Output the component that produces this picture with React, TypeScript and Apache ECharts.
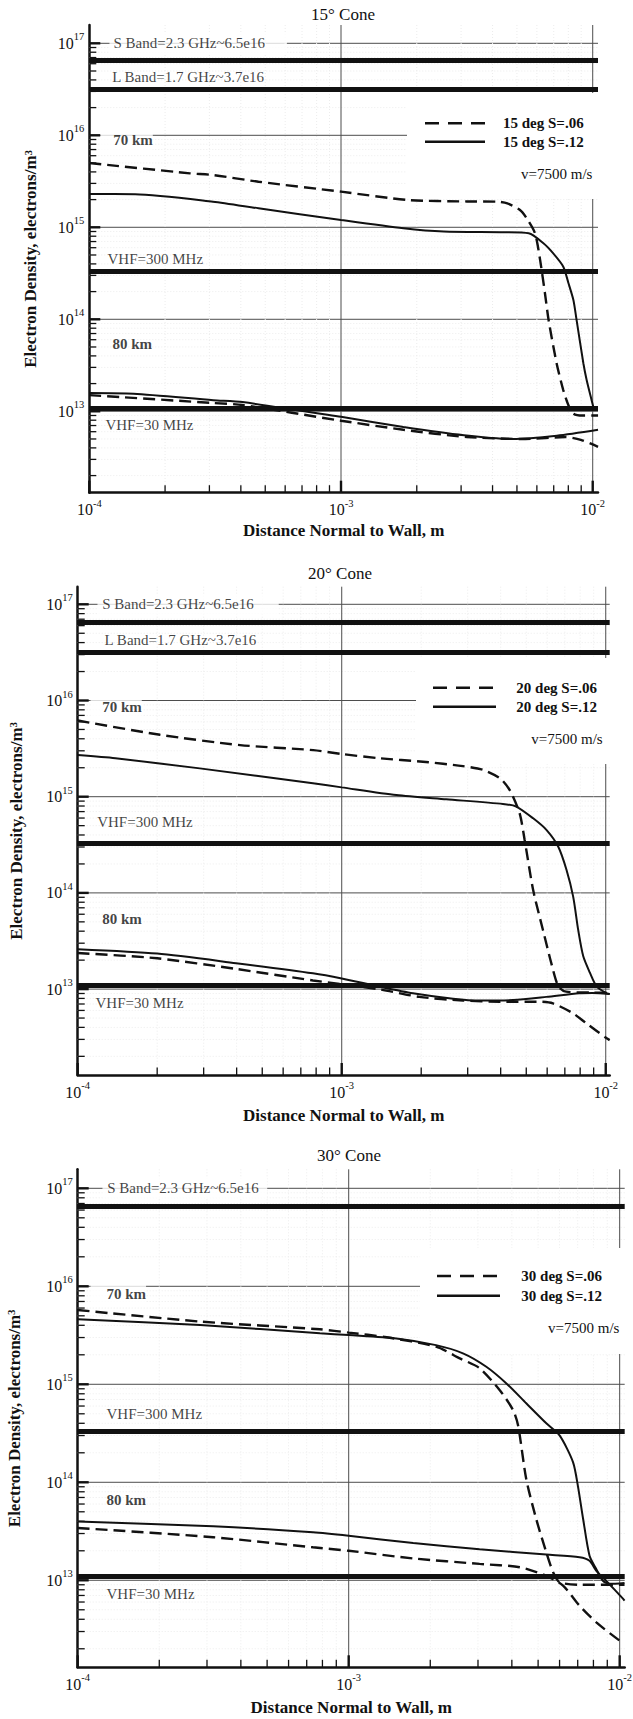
import React, { useEffect, useRef } from "react";
import * as echarts from "echarts";

const FONT = '"Liberation Serif", "Times New Roman", Times, serif';
const INK = "#111111";

// ---------------- DATA ----------------
const xAxisTitle = "Distance Normal to Wall, m";
const yAxisTitle = "Electron Density, electrons/m{sup|3}";
const panelTitles = ["15° Cone", "20° Cone", "30° Cone"];
const distanceMajorExp = [-4, -3, -2];
const densityMajorExp = [13, 14, 15, 16, 17];
const minorMultipliers = [2, 3, 4, 5, 6, 7, 8, 9];

const bandLabels = ["S Band=2.3 GHz~6.5e16", "L Band=1.7 GHz~3.7e16", "VHF=300 MHz", "VHF=30 MHz"];
const altitudeLabels = ["70 km", "80 km"];
const velocityNote = "v=7500 m/s";

const legend15 = ["15 deg S=.06", "15 deg S=.12"];
const legend20 = ["20 deg S=.06", "20 deg S=.12"];
const legend30 = ["30 deg S=.06", "30 deg S=.12"];

// plasma cut-off densities drawn as heavy lines
const bands15 = [6.5e16, 3.2e16, 3.35e14, 1.08e13];
const bands20 = [6.5e16, 3.2e16, 3.3e14, 1.1e13];
const bands30 = [6.6e16, 3.3e14, 1.11e13];

// [distance m, electron density m^-3]
const cone15_S06_70km = [
  [1.0e-4, 5.0e15], [2.51e-4, 3.86e15], [3.1e-4, 3.7e15], [4.7e-4, 3.13e15], [1.0e-3, 2.44e15],
  [1.84e-3, 1.98e15], [3.16e-3, 1.91e15], [4.16e-3, 1.9e15], [4.58e-3, 1.82e15], [5.14e-3, 1.54e15],
  [5.47e-3, 1.25e15], [5.9e-3, 8.6e14], [6.18e-3, 4.42e14], [6.46e-3, 1.92e14], [6.68e-3, 9.8e13],
  [7.19e-3, 3.31e13], [7.64e-3, 1.7e13], [8.0e-3, 1.17e13], [8.38e-3, 9.44e12], [9.12e-3, 9.0e12], [1.05e-2, 9.0e12],
];
const cone15_S12_70km = [
  [1.0e-4, 2.3e15], [1.52e-4, 2.29e15], [3.1e-4, 1.9e15], [4.7e-4, 1.61e15], [1.0e-3, 1.2e15],
  [1.77e-3, 9.75e14], [2.56e-3, 8.98e14], [4.46e-3, 8.83e14], [5.57e-3, 8.6e14], [6.37e-3, 6.7e14],
  [6.97e-3, 5.2e14], [7.64e-3, 3.73e14], [8.0e-3, 2.5e14], [8.38e-3, 1.62e14],
  [8.63e-3, 9.8e13], [9.18e-3, 3.33e13], [9.46e-3, 2.19e13], [9.9e-3, 1.32e13], [1.005e-2, 1.12e13],
];
const cone15_S06_80km = [
  [1.0e-4, 1.5e13], [3.11e-4, 1.23e13], [4.06e-4, 1.17e13], [1.0e-3, 7.9e12], [1.77e-3, 6.3e12],
  [3.16e-3, 5.25e12], [5.4e-3, 5.0e12], [7.8e-3, 5.25e12], [8.97e-3, 4.9e12], [1.05e-2, 4.1e12],
];
const cone15_S12_80km = [
  [1.0e-4, 1.58e13], [1.5e-4, 1.55e13], [3.11e-4, 1.32e13], [4.06e-4, 1.26e13], [1.0e-3, 8.7e12],
  [1.77e-3, 6.76e12], [3.08e-3, 5.5e12], [4.8e-3, 5.0e12], [7.2e-3, 5.43e12], [1.05e-2, 6.3e12],
];

const cone20_S06_70km = [
  [1.0e-4, 6.2e15], [2.05e-4, 4.4e15], [4.12e-4, 3.44e15], [7.8e-4, 3.05e15], [1.0e-3, 2.78e15],
  [1.39e-3, 2.51e15], [2.03e-3, 2.31e15], [2.88e-3, 2.08e15], [3.43e-3, 1.9e15], [3.98e-3, 1.55e15],
  [4.33e-3, 1.17e15], [4.72e-3, 6.7e14], [4.93e-3, 3.55e14], [5.31e-3, 1.07e14], [5.79e-3, 4.07e13],
  [6.22e-3, 1.86e13], [6.61e-3, 1.07e13], [7.08e-3, 9.4e12], [8.9e-3, 9.2e12], [1.035e-2, 9.1e12],
];
const cone20_S12_70km = [
  [1.0e-4, 2.71e15], [1.39e-4, 2.51e15], [2.9e-4, 1.97e15], [7.78e-4, 1.38e15], [1.0e-3, 1.25e15],
  [1.61e-3, 1.04e15], [2.49e-3, 9.4e14], [4.08e-3, 8.4e14], [4.58e-3, 7.9e14], [5.31e-3, 5.96e14],
  [5.96e-3, 4.52e14], [6.61e-3, 3.02e14], [7.1e-3, 1.74e14], [7.53e-3, 9.1e13], [7.87e-3, 4.07e13],
  [8.22e-3, 2.19e13], [8.71e-3, 1.48e13], [9.23e-3, 1.07e13], [1.005e-2, 9.1e12], [1.035e-2, 8.9e12],
];
const cone20_S06_80km = [
  [1.0e-4, 2.37e13], [2.0e-4, 2.09e13], [3.98e-4, 1.62e13], [7.78e-4, 1.23e13], [1.39e-3, 9.95e12],
  [1.97e-3, 8.3e12], [2.88e-3, 7.6e12], [3.98e-3, 7.4e12], [5.62e-3, 7.4e12], [6.31e-3, 7.1e12],
  [7.52e-3, 5.6e12], [8.45e-3, 4.4e12], [1.005e-2, 3.1e12], [1.035e-2, 2.95e12],
];
const cone20_S12_80km = [
  [1.0e-4, 2.6e13], [2.0e-4, 2.34e13], [3.98e-4, 1.86e13], [7.78e-4, 1.46e13], [1.0e-3, 1.29e13],
  [1.39e-3, 1.06e13], [1.86e-3, 9.04e12], [2.64e-3, 7.94e12], [3.33e-3, 7.59e12], [4.46e-3, 7.7e12],
  [5.96e-3, 8.3e12], [7.94e-3, 9.04e12], [8.91e-3, 9.1e12], [1.035e-2, 8.9e12],
];

const cone30_S06_70km = [
  [1.0e-4, 5.73e15], [2.82e-4, 4.37e15], [7.83e-4, 3.64e15], [1.0e-3, 3.37e15], [1.38e-3, 3.02e15],
  [2.1e-3, 2.42e15], [2.57e-3, 1.84e15], [3.04e-3, 1.46e15], [3.61e-3, 8.7e14], [4.04e-3, 5.47e14],
  [4.22e-3, 3.78e14], [4.52e-3, 1.08e14], [4.92e-3, 4.22e13], [5.36e-3, 1.93e13], [5.68e-3, 1.21e13],
  [6.01e-3, 9.55e12], [7.08e-3, 9.0e12], [1.042e-2, 9.0e12],
];
const cone30_S12_70km = [
  [1.0e-4, 4.6e15], [2.83e-4, 4.03e15], [7.83e-4, 3.31e15], [1.0e-3, 3.18e15], [1.5e-3, 2.94e15],
  [2.1e-3, 2.51e15], [2.64e-3, 2.07e15], [3.22e-3, 1.51e15], [3.82e-3, 1.02e15], [4.52e-3, 6.4e14],
  [5.36e-3, 4.0e14], [6.01e-3, 2.99e14], [6.73e-3, 1.6e14], [7.01e-3, 9.2e13], [7.33e-3, 4.22e13],
  [7.74e-3, 1.78e13], [8.2e-3, 1.3e13], [8.67e-3, 9.9e12], [9.18e-3, 9.2e12], [1.042e-2, 9.4e12],
];
const cone30_S06_80km = [
  [1.0e-4, 3.42e13], [3.16e-4, 2.75e13], [7.38e-4, 2.17e13], [1.0e-3, 2.0e13], [1.73e-3, 1.67e13],
  [3.04e-3, 1.47e13], [4.28e-3, 1.36e13], [5.36e-3, 1.11e13], [6.18e-3, 8.8e12], [7.11e-3, 5.5e12],
  [8.2e-3, 3.72e12], [1.0e-2, 2.42e12], [1.042e-2, 2.29e12],
];
const cone30_S12_80km = [
  [1.0e-4, 3.98e13], [3.16e-4, 3.55e13], [7.38e-4, 3.09e13], [1.0e-3, 2.85e13], [1.73e-3, 2.4e13],
  [3.04e-3, 2.07e13], [5.36e-3, 1.83e13], [7.11e-3, 1.72e13], [7.74e-3, 1.58e13], [8.2e-3, 1.25e13],
  [8.91e-3, 9.9e12], [1.028e-2, 6.5e12], [1.042e-2, 6.2e12],
];

const PANELS = [
  { dashed: [cone15_S06_70km, cone15_S06_80km], solid: [cone15_S12_70km, cone15_S12_80km], bands: bands15, legend: legend15 },
  { dashed: [cone20_S06_70km, cone20_S06_80km], solid: [cone20_S12_70km, cone20_S12_80km], bands: bands20, legend: legend20 },
  { dashed: [cone30_S06_70km, cone30_S06_80km], solid: [cone30_S12_70km, cone30_S12_80km], bands: bands30, legend: legend30 },
];

// ---------------- LAYOUT (pixels / anchors) ----------------
type Note = { text: string; x: number; y: number; bold?: boolean; bg?: boolean; pad: number[] };
const LAYOUT = [
  {
    grid: { left: 89.3, top: 25, width: 508.7, height: 467.7 },
    xMaxExp: -1.979, yExp: [12.115, 17.199], title: [343, 14], yNameGap: 50, xNameGap: 29,
    legend: { box: [407, 93, 193, 106], rows: [123.3, 141.7], line: [425, 485], textX: 503, vX: 521, vY: 174 },
    notes: [
      { text: bandLabels[0], x: 1.197e-4, y: 1.0e17, bg: true, pad: [3, 22, 3, 4] },
      { text: bandLabels[1], x: 1.228e-4, y: 4.34e16, pad: [0, 0, 0, 0] },
      { text: altitudeLabels[0], x: 1.103e-4, y: 8.9e15, bold: true, bg: true, pad: [3, 0, 3, 12.7] },
      { text: bandLabels[2], x: 1.176e-4, y: 4.52e14, pad: [0, 0, 0, 0] },
      { text: altitudeLabels[1], x: 1.231e-4, y: 5.35e13, bold: true, pad: [0, 0, 0, 0] },
      { text: bandLabels[3], x: 1.154e-4, y: 7.03e12, pad: [0, 0, 0, 0] },
    ] as Note[],
  },
  {
    grid: { left: 77.7, top: 586.7, width: 532, height: 488.3 },
    xMaxExp: -1.985, yExp: [12.107, 17.183], title: [340, 573], yNameGap: 53, xNameGap: 31.5,
    legend: { box: [416, 658, 196, 106], rows: [687.7, 706.7], line: [433, 496], textX: 516.3, vX: 531.3, vY: 739 },
    notes: [
      { text: bandLabels[0], x: 1.183e-4, y: 1.0e17, bg: true, pad: [3, 25, 3, 4.7] },
      { text: bandLabels[1], x: 1.258e-4, y: 4.26e16, pad: [0, 0, 0, 0] },
      { text: altitudeLabels[0], x: 1.113e-4, y: 8.6e15, bold: true, bg: true, pad: [3, 0, 3, 11.7] },
      { text: bandLabels[2], x: 1.18e-4, y: 5.5e14, pad: [0, 0, 0, 0] },
      { text: altitudeLabels[1], x: 1.233e-4, y: 5.3e13, bold: true, pad: [0, 0, 0, 0] },
      { text: bandLabels[3], x: 1.163e-4, y: 7.15e12, pad: [0, 0, 0, 0] },
    ] as Note[],
  },
  {
    grid: { left: 77.7, top: 1169.3, width: 547, height: 498 },
    xMaxExp: -1.9815, yExp: [12.112, 17.194], title: [349, 1155], yNameGap: 55, xNameGap: 31.5,
    legend: { box: [420, 1248, 213, 106], rows: [1276, 1295.7], line: [437, 500], textX: 521.3, vX: 548, vY: 1328.3 },
    notes: [
      { text: bandLabels[0], x: 1.229e-4, y: 1.0e17, bg: true, pad: [3, 8.3, 3, 4.7] },
      { text: altitudeLabels[0], x: 1.11e-4, y: 8.34e15, bold: true, bg: true, pad: [4, 0, 3, 16] },
      { text: bandLabels[2], x: 1.272e-4, y: 4.94e14, pad: [0, 0, 0, 0] },
      { text: altitudeLabels[1], x: 1.272e-4, y: 6.6e13, bold: true, pad: [0, 0, 0, 0] },
      { text: bandLabels[3], x: 1.272e-4, y: 7.2e12, pad: [0, 0, 0, 0] },
    ] as Note[],
  },
];

const expLabel = (v: number) => {
  const e = Math.log10(v);
  const r = Math.round(e);
  if (Math.abs(e - r) > 1e-6) return "";
  return `{b|10}{s|${r}}`;
};
const labelRich = {
  b: { fontFamily: FONT, fontSize: 16, color: INK, lineHeight: 24 },
  s: { fontFamily: FONT, fontSize: 10.5, color: INK, verticalAlign: "top", lineHeight: 10 },
};

// kinds: 0 y-grid, 1 y-minor grid, 2 x-grid, 3 x-minor grid, 4 y major tick, 5 y minor tick, 6 x major tick, 7 x minor tick
const renderGuides = (params: any, api: any) => {
  const cs = params.coordSys;
  const kind = api.value(2);
  const pt = api.coord([api.value(0), api.value(1)]);
  const left = cs.x, right = cs.x + cs.width, top = cs.y, bottom = cs.y + cs.height;
  let shape: any; let style: any;
  switch (kind) {
    case 0: shape = { x1: left, y1: pt[1], x2: right, y2: pt[1] }; style = { stroke: "#4d4d4d", lineWidth: 1 }; break;
    case 1: shape = { x1: left, y1: pt[1], x2: right, y2: pt[1] }; style = { stroke: "#ececec", lineWidth: 1, lineDash: [1, 2] }; break;
    case 2: shape = { x1: pt[0], y1: top, x2: pt[0], y2: bottom }; style = { stroke: "#4d4d4d", lineWidth: 1 }; break;
    case 3: shape = { x1: pt[0], y1: top, x2: pt[0], y2: bottom }; style = { stroke: "#ececec", lineWidth: 1, lineDash: [1, 2] }; break;
    case 4: shape = { x1: left, y1: pt[1], x2: left + 11, y2: pt[1] }; style = { stroke: INK, lineWidth: 2.4 }; break;
    case 5: shape = { x1: left, y1: pt[1], x2: left + 7, y2: pt[1] }; style = { stroke: INK, lineWidth: 1.3 }; break;
    case 6: shape = { x1: pt[0], y1: bottom, x2: pt[0], y2: bottom - 12 }; style = { stroke: INK, lineWidth: 2.4 }; break;
    default: shape = { x1: pt[0], y1: bottom, x2: pt[0], y2: bottom - 7.5 }; style = { stroke: INK, lineWidth: 1.3 }; break;
  }
  return { type: "line", shape, style, silent: true };
};

function buildOption() {
  const grid: any[] = [];
  const xAxis: any[] = [];
  const yAxis: any[] = [];
  const series: any[] = [];
  const graphic: any[] = [];

  PANELS.forEach((P, i) => {
    const L = LAYOUT[i];
    const xMin = 1e-4;
    const xMax = Math.pow(10, L.xMaxExp);
    const yMin = Math.pow(10, L.yExp[0]);
    const yMax = Math.pow(10, L.yExp[1]);

    grid.push({ ...L.grid, containLabel: false, outerBoundsMode: "none", show: false });

    xAxis.push({
      type: "log", logBase: 10, gridIndex: i, min: xMin, max: xMax,
      name: xAxisTitle, nameLocation: "middle", nameGap: L.xNameGap,
      nameTextStyle: { fontFamily: FONT, fontSize: 17, fontWeight: "bold", color: INK },
      axisLine: { show: true, onZero: false, lineStyle: { color: INK, width: 2.5 } },
      axisTick: { show: false }, minorTick: { show: false }, splitLine: { show: false }, minorSplitLine: { show: false },
      axisLabel: { show: true, formatter: expLabel, margin: 5, rich: labelRich, hideOverlap: false },
    });
    yAxis.push({
      type: "log", logBase: 10, gridIndex: i, min: yMin, max: yMax,
      name: yAxisTitle, nameLocation: "middle", nameGap: L.yNameGap, nameRotate: 90,
      nameTextStyle: {
        fontFamily: FONT, fontSize: 17, fontWeight: "bold", color: INK,
        rich: { sup: { fontFamily: FONT, fontSize: 11, fontWeight: "bold", color: INK, verticalAlign: "top", lineHeight: 10 } },
      },
      axisLine: { show: true, onZero: false, lineStyle: { color: INK, width: 2.5 } },
      axisTick: { show: false }, minorTick: { show: false }, splitLine: { show: false }, minorSplitLine: { show: false },
      axisLabel: { show: true, formatter: expLabel, margin: 5, rich: labelRich, hideOverlap: false },
    });

    // guides: grid lines and ticks
    const guides: number[][] = [];
    densityMajorExp.forEach((e) => {
      guides.push([xMin, Math.pow(10, e), 0]);
      guides.push([xMin, Math.pow(10, e), 4]);
    });
    for (let e = Math.floor(L.yExp[0]); e < Math.ceil(L.yExp[1]); e++) {
      minorMultipliers.forEach((m) => {
        const v = m * Math.pow(10, e);
        if (v > yMin && v < yMax) {
          guides.push([xMin, v, 1]);
          guides.push([xMin, v, 5]);
        }
      });
    }
    distanceMajorExp.forEach((e) => {
      const v = Math.pow(10, e);
      if (e > distanceMajorExp[0]) guides.push([v, yMin, 2]);
      guides.push([v, yMin, 6]);
    });
    distanceMajorExp.slice(0, -1).forEach((e) => {
      minorMultipliers.forEach((m) => {
        const v = m * Math.pow(10, e);
        guides.push([v, yMin, 3]);
        guides.push([v, yMin, 7]);
      });
    });
    series.push({
      type: "custom", xAxisIndex: i, yAxisIndex: i, renderItem: renderGuides, data: guides,
      z: 1, silent: true, clip: false,
    });

    const dashedStyle = { color: INK, width: 2.4, type: [12, 6] };
    const solidStyle = { color: INK, width: 2, type: "solid" };
    const lineBase = {
      type: "line", xAxisIndex: i, yAxisIndex: i, showSymbol: false, symbol: "none",
      smooth: 0.25, z: 3, silent: true, clip: true,
    };
    series.push({
      ...lineBase, name: P.legend[0], data: P.dashed[0], lineStyle: dashedStyle,
      markLine: {
        silent: true, symbol: ["none", "none"], label: { show: false },
        lineStyle: { color: INK, width: 5, type: "solid" },
        data: P.bands.map((v) => ({ yAxis: v })),
      },
    });
    series.push({ ...lineBase, name: P.legend[1], data: P.solid[0], lineStyle: solidStyle });
    series.push({ ...lineBase, name: P.legend[0] + " 80km", data: P.dashed[1], lineStyle: dashedStyle });
    series.push({ ...lineBase, name: P.legend[1] + " 80km", data: P.solid[1], lineStyle: solidStyle });

    series.push({
      type: "scatter", xAxisIndex: i, yAxisIndex: i, symbolSize: 1, z: 4, silent: true,
      itemStyle: { color: "rgba(0,0,0,0)" },
      label: { show: true },
      data: L.notes.map((n) => ({
        value: [n.x, n.y],
        label: {
          show: true, position: "right", distance: 0, formatter: n.text,
          fontFamily: FONT, fontSize: 15, fontWeight: n.bold ? "bold" : "normal", color: INK,
          backgroundColor: n.bg ? "#ffffff" : "transparent", padding: n.pad,
        },
      })),
    });

    // title
    graphic.push({
      type: "text", x: L.title[0], y: L.title[1], z: 5, silent: true,
      style: { text: panelTitles[i], font: `17px ${FONT}`, fill: INK, textAlign: "center", textVerticalAlign: "middle" },
    });
    // legend box
    const lg = L.legend;
    graphic.push({
      type: "rect", z: 2, silent: true,
      shape: { x: lg.box[0], y: lg.box[1], width: lg.box[2], height: lg.box[3] },
      style: { fill: "#ffffff" },
    });
    graphic.push({
      type: "line", z: 5, silent: true,
      shape: { x1: lg.line[0], y1: lg.rows[0], x2: lg.line[1], y2: lg.rows[0] },
      style: { stroke: INK, lineWidth: 2.5, lineDash: [14, 9] },
    });
    graphic.push({
      type: "line", z: 5, silent: true,
      shape: { x1: lg.line[0], y1: lg.rows[1], x2: lg.line[1], y2: lg.rows[1] },
      style: { stroke: INK, lineWidth: 2.4 },
    });
    P.legend.forEach((name, k) => {
      graphic.push({
        type: "text", x: lg.textX, y: lg.rows[k], z: 5, silent: true,
        style: { text: name, font: `bold 15px ${FONT}`, fill: INK, textAlign: "left", textVerticalAlign: "middle" },
      });
    });
    graphic.push({
      type: "text", x: lg.vX, y: lg.vY, z: 5, silent: true,
      style: { text: velocityNote, font: `15px ${FONT}`, fill: INK, textAlign: "left", textVerticalAlign: "middle" },
    });
  });

  return {
    animation: false,
    backgroundColor: "#ffffff",
    grid, xAxis, yAxis, series, graphic,
  };
}

export default function App() {
  const ref = useRef<HTMLDivElement>(null);
  useEffect(() => {
    document.body.style.margin = "0";
    if (!ref.current) return;
    const chart = echarts.init(ref.current, undefined, { renderer: "svg" });
    chart.setOption(buildOption() as any);
    return () => chart.dispose();
  }, []);
  return <div ref={ref} style={{ width: 633, height: 1719, background: "#fff" }} />;
}
